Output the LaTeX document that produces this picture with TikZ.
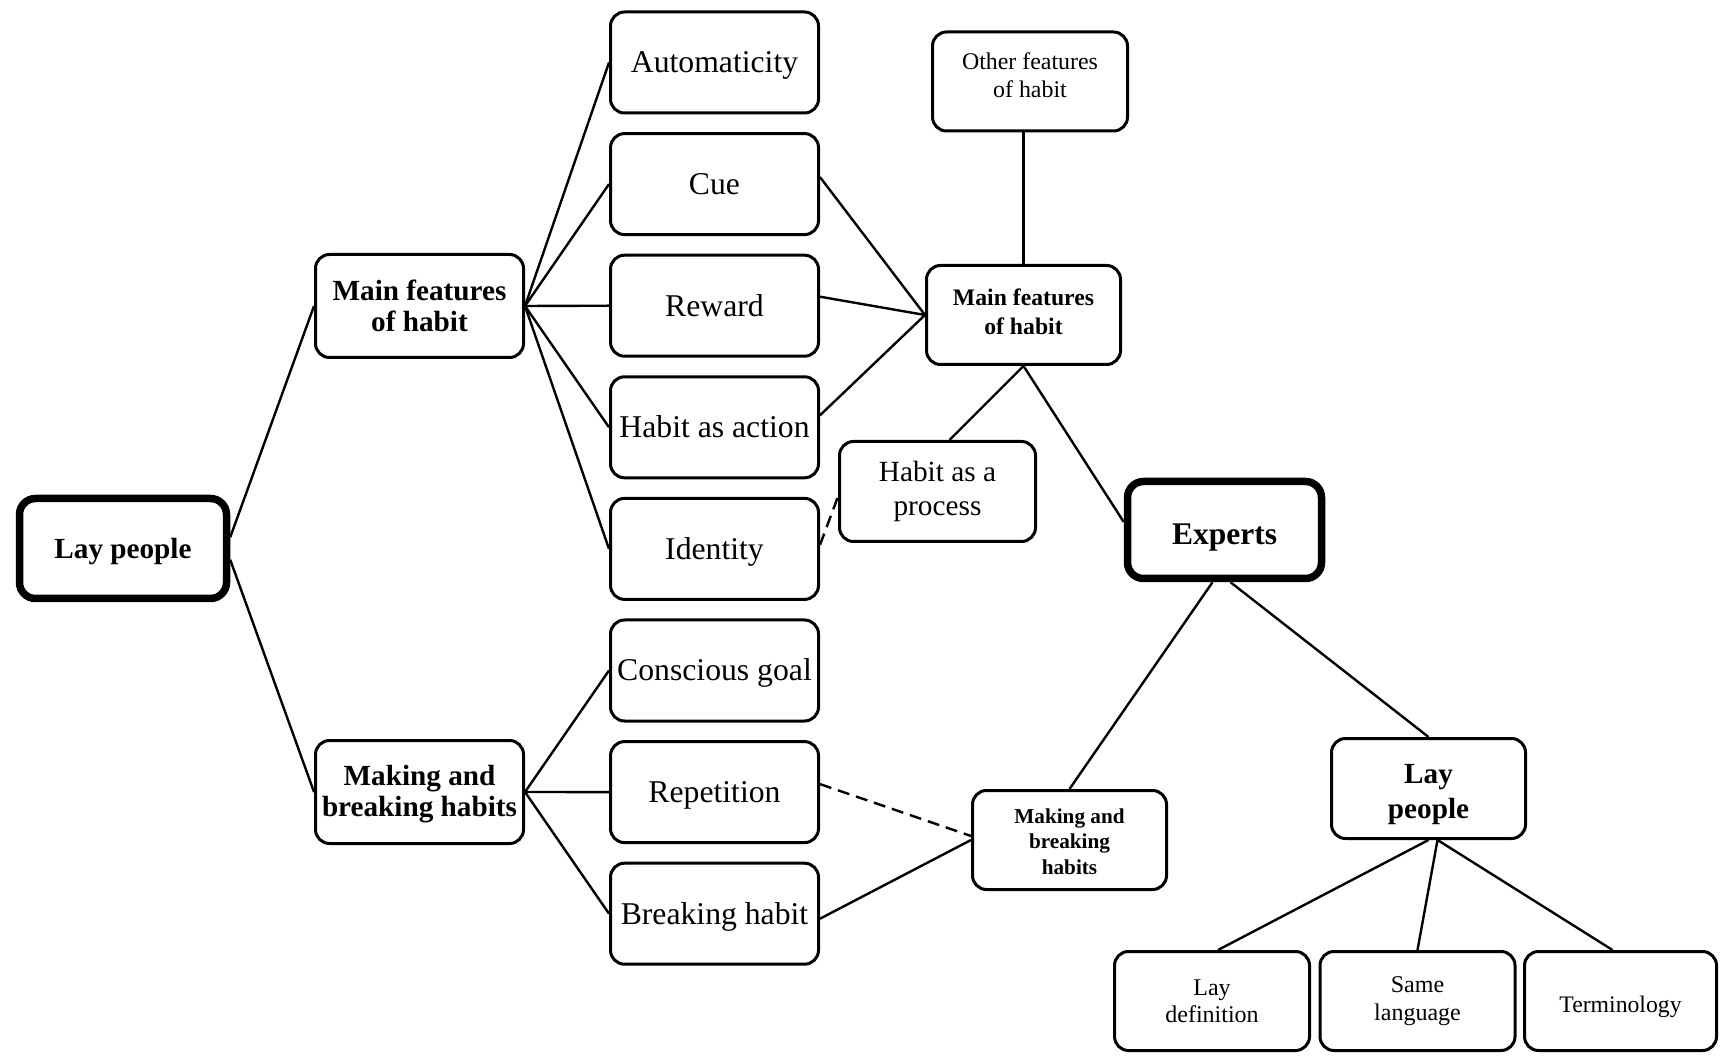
\documentclass[tikz,border=0pt]{standalone}
\usepackage{fontspec}
\setmainfont{Liberation Serif}
\usetikzlibrary{calc}
\begin{document}
\begin{tikzpicture}[x=1pt,y=1pt,
  box/.style={draw, line width=3pt, rounded corners=14pt, align=center, inner sep=0pt, fill=white},
  thickbox/.style={box, line width=7.5pt, rounded corners=16pt},
  colbox/.style={box, minimum width=208pt, minimum height=101pt, text height=21pt, text depth=0pt, font=\fontsize{31.7}{34}\selectfont},
  leftbox/.style={box, minimum width=208pt, minimum height=103pt, font=\bfseries\fontsize{29.2}{31}\selectfont},
  smallbox/.style={box, minimum width=195pt, minimum height=99pt},
  link/.style={line width=2.4pt},
  dlink/.style={link, dash pattern=on 12pt off 7pt},
]
\useasboundingbox (0,0) rectangle (1720,1058);

% left hub
\node[thickbox, minimum width=207pt, minimum height=100pt, text height=20pt, text depth=0pt, font=\bfseries\fontsize{29.2}{31}\selectfont] (layl) at (123,509.5) {Lay people};
\node[leftbox] (mfl) at (419.5,752) {Main features\\of habit};
\node[leftbox] (mbl) at (419.5,266) {\rule{0pt}{24pt}Making and\\breaking habits};

% column
\node[colbox] (auto) at (714.5,995.5) {Automaticity};
\node[colbox] (cue) at (714.5,873.9) {Cue};
\node[colbox] (rew) at (714.5,752.3) {Reward};
\node[colbox] (act) at (714.5,630.7) {Habit as action};
\node[colbox] (ident) at (714.5,509.1) {Identity};
\node[colbox] (goal) at (714.5,387.5) {Conscious goal};
\node[colbox] (rep) at (714.5,265.9) {Repetition};
\node[colbox] (brk) at (714.5,144.3) {Breaking habit};

% right side
\node[smallbox, font=\fontsize{23.9}{28.5}\selectfont] (ofh) at (1030,976.5) {Other features\\of habit\rule[-13pt]{0pt}{0pt}};
\node[smallbox, minimum width=194pt, font=\bfseries\fontsize{23.7}{28.5}\selectfont] (mfr) at (1023.5,743) {Main features\\of habit\rule[-6.6pt]{0pt}{0pt}};
\node[smallbox, minimum width=196pt, minimum height=100pt, font=\fontsize{29.3}{34}\selectfont] (proc) at (937.5,566.5) {Habit as a\\process};
\node[thickbox, minimum width=194pt, minimum height=97pt, text height=29pt, text depth=0pt, font=\bfseries\fontsize{31.5}{34}\selectfont] (exp) at (1224.5,528) {Experts};
\node[smallbox, minimum width=194pt, font=\bfseries\fontsize{21.2}{25.8}\selectfont] (mbr) at (1069.5,218) {\rule{0pt}{18pt}Making and\\breaking\\habits};
\node[smallbox, minimum width=194pt, minimum height=100pt, font=\bfseries\fontsize{29.2}{35}\selectfont] (layr) at (1428.5,269.5) {\rule{0pt}{30.5pt}Lay\\people};
\node[smallbox, font=\fontsize{24}{27}\selectfont] (ld) at (1212,57) {Lay\\definition};
\node[smallbox, font=\fontsize{24}{28}\selectfont] (sl) at (1417.5,57) {Same\\language};
\node[smallbox, minimum width=192pt, text height=22pt, text depth=0pt, font=\fontsize{23.7}{28}\selectfont] (term) at (1620.5,57) {Terminology};

% connectors
\draw[link] (layl.6) -- (mfl.west);
\draw[link] (layl.-6) -- (mbl.west);
\foreach \n in {auto,cue,rew,act,ident} \draw[link] (mfl.east) -- (\n.west);
\foreach \n in {goal,rep,brk} \draw[link] (mbl.east) -- (\n.west);
\draw[link] ($(cue.east)+(0,7)$) -- (mfr.west);
\draw[link] ($(rew.east)+(0,9)$) -- (mfr.west);
\draw[link] ($(act.east)+(0,12)$) -- (mfr.west);
\draw[link] (mfr.north) -- (mfr.north |- ofh.south);
\draw[link] (mfr.south) -- ($(proc.north)+(12,0)$);
\draw[link] (mfr.south) -- ($(exp.west)+(0,8)$);
\draw[dlink] ($(ident.east)+(0,4)$) -- ($(proc.west)+(0,-5)$);
\draw[link] ($(exp.south)+(-12,0)$) -- (mbr.north);
\draw[link] ($(exp.south)+(6,0)$) -- (layr.north);
\draw[dlink] ($(rep.east)+(0,8)$) -- ($(mbr.west)+(0,4)$);
\draw[link] ($(brk.east)+(0,-5)$) -- (mbr.west);
\draw[link] (layr.south) -- ($(ld.north)+(6,0)$);
\draw[link] ($(layr.south)+(9,0)$) -- (sl.north);
\draw[link] ($(layr.south)+(9,0)$) -- ($(term.north)+(-8,0)$);
\end{tikzpicture}
\end{document}
